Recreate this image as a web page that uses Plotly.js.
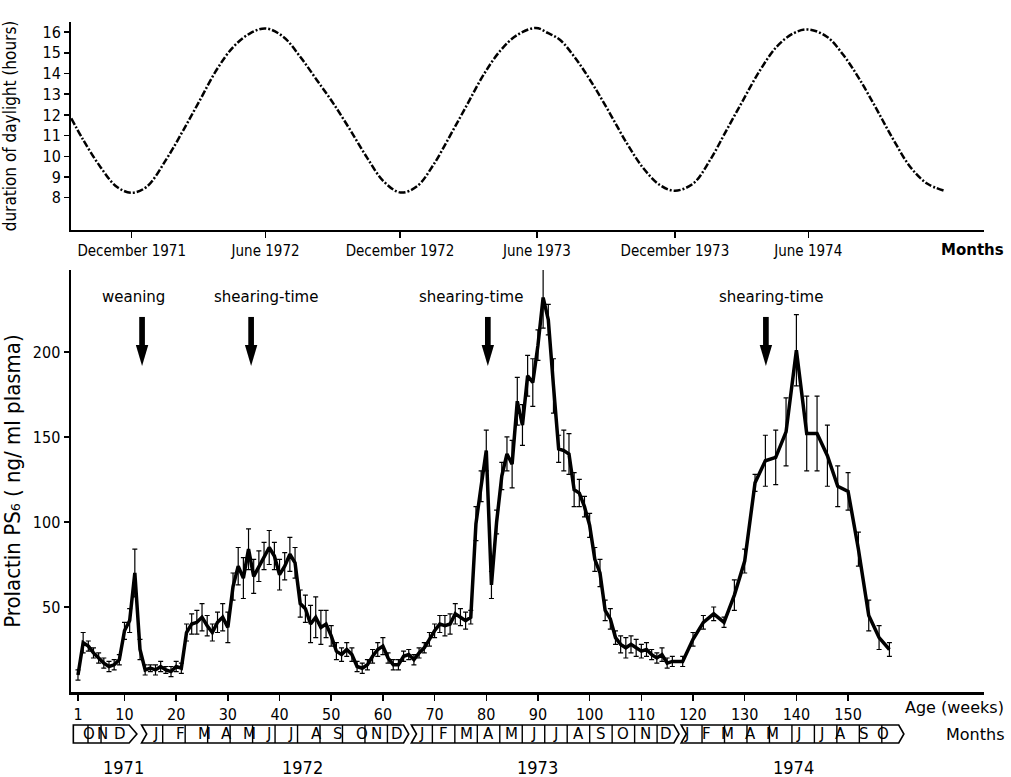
<!DOCTYPE html>
<html><head><meta charset="utf-8">
<script src="https://cdn.plot.ly/plotly-3.0.1.min.js"></script>
<style>html,body{margin:0;padding:0;background:#fff}#chart{width:1011px;height:777px}</style>
</head><body><div id="chart"></div>
<script>
// ---------- data ----------
const weeks = [1,2,3,4,5,6,7,8,9,10,11,12,13,14,15,16,17,18,19,20,21,22,23,24,25,26,27,28,29,30,
  31,32,33,34,35,36,37,38,39,40,41,42,43,44,45,46,47,48,49,50,51,52,53,54,55,56,57,58,59,60,
  61,62,63,64,65,66,67,68,69,70,71,72,73,74,75,76,77,78,79,80,81,82,83,84,85,86,87,88,89,90,
  91,92,93,94,95,96,97,98,99,100,101,102,103,104,105,106,107,108,109,110,111,112,113,114,115,116,
  118,120,122,124,126,128,130,132,134,136,138,140,142,144,146,148,150,152,154,156,158];
const prolactin = [10,29,27,23,20,17,15,16,19,36,
  42,70,25,13,14,13,15,13,12,15,
  14,35,40,41,44,39,35,41,44,38,
  62,74,67,84,68,74,80,85,80,69,
  74,81,76,52,49,40,44,38,40,33,
  24,22,25,22,15,14,16,21,25,27,
  20,16,16,21,22,19,23,26,31,36,
  40,39,40,46,44,42,44,99,121,142,
  63,100,127,140,134,171,157,186,182,204,
  232,219,180,143,142,140,119,117,109,98,
  78,70,48,43,32,28,26,28,26,24,
  25,22,20,22,17,18,
  18,31,41,46,41,57,77,123,136,138,153,201,152,152,139,121,118,84,45,32,25];
const prolactinErr = [3,6,3,3,3,3,3,3,3,5,
  7,14,6,3,2,3,3,2,3,3,
  3,5,6,7,8,6,5,6,8,9,
  8,11,12,12,10,9,8,10,8,9,
  8,10,9,8,8,11,12,10,8,6,
  5,4,4,4,3,3,3,4,4,5,
  3,3,3,3,3,3,3,3,4,4,
  5,6,6,6,5,5,4,10,9,12,
  8,7,8,10,14,14,12,12,14,9,
  18,9,16,8,12,12,10,8,6,7,
  7,8,6,6,4,5,6,5,5,4,
  4,3,3,4,3,3,
  3,4,4,4,3,9,7,5,15,16,20,21,22,22,18,12,11,10,9,7,4];

const daylightWeeks = [-0.3,2.0,5.3,8.5,11.4,14.3,18.2,21.4,24.6,27.8,31.1,34.3,37.3,40.7,44.0,47.2,50.4,
  53.6,56.9,60.1,63.4,66.6,69.8,73.0,76.3,79.5,82.7,85.9,89.6,92.0,
  94.3,97.5,100.7,103.9,107.2,110.4,113.6,116.5,120.1,123.3,126.5,129.7,133.0,136.2,139.4,142.3,
  145.9,149.1,152.3,155.6,158.8,162.0,165.2,168.8];
const daylightHours = [11.84,10.8,9.5,8.53,8.24,8.53,9.9,11.27,12.72,14.17,15.3,15.94,16.18,15.78,14.81,13.69,12.56,
  11.3,9.95,8.8,8.25,8.55,9.6,11.0,12.5,13.95,15.1,15.85,16.2,15.95,
  15.62,14.65,13.44,12.08,10.63,9.42,8.61,8.34,8.70,9.82,11.27,12.72,14.17,15.3,15.94,16.13,
  15.78,14.89,13.69,12.24,10.79,9.5,8.70,8.32];

const daylightTickWeeks = [11.4,37.3,63.3,89.8,116.5,142.3];
const daylightTickLabels = ['December 1971','June 1972','December 1972','June 1973','December 1973','June 1974'];
const hourTicks = [8,9,10,11,12,13,14,15,16];
const ageTicks = [1,10,20,30,40,50,60,70,80,90,100,110,120,130,140,150];
const prolactinTicks = [50,100,150,200];
const monthLetters = ['O','N','D',
  'J','F','M','A','M','J','J','A','S','O','N','D',
  'J','F','M','A','M','J','J','A','S','O','N','D',
  'J','F','M','A','M','J','J','A','S','O'];
const yearLabels = ['1971','1972','1973','1974'];
const eventLabels = ['weaning','shearing-time','shearing-time','shearing-time'];
const eventWeeks = [13.4,34.5,80.3,134.1];

// ---------- layout helpers ----------
const FONT = 'DejaVu Sans Condensed, DejaVu Sans, sans-serif';
const FONT2 = 'DejaVu Sans, sans-serif';
const X0 = -0.35, X1 = 176.3;
const px = w => (w - X0) / (X1 - X0);
const val = p => (692 - p) / 1.7;   // pixel row -> prolactin axis position (layout helper)

const traces = [
  {x: daylightWeeks, y: daylightHours, xaxis: 'x', yaxis: 'y', mode: 'lines',
   line: {color: '#000', width: 2.5, dash: '7px,2px,2px,2px', shape: 'spline', smoothing: 1},
   hoverinfo: 'skip'},
  {x: weeks, y: prolactin, xaxis: 'x2', yaxis: 'y2', mode: 'lines',
   line: {color: '#000', width: 3.5},
   error_y: {type: 'data', array: prolactinErr, visible: true, color: '#000', thickness: 1.2, width: 2.5}}
];

const annotations = [];
const shapes = [];

// event labels + arrows (arrows drawn as shapes)
const eventTextWeeks = [11.8, 37.4, 77.0, 135.1];
eventLabels.forEach((t, i) => {
  annotations.push({xref: 'x2', yref: 'y2', x: eventTextWeeks[i], y: val(297), text: t, showarrow: false,
    font: {family: FONT2, size: 15, color: '#000'}});
  const w = eventWeeks[i];
  shapes.push({type: 'rect', xref: 'x2', yref: 'y2', x0: w - 0.55, x1: w + 0.55, y0: val(317), y1: val(347),
    line: {width: 0}, fillcolor: '#000'});
  shapes.push({type: 'path', xref: 'x2', yref: 'y2',
    path: `M ${w - 1.2},${val(345)} L ${w + 1.2},${val(345)} L ${w},${val(366)} Z`,
    line: {width: 0}, fillcolor: '#000'});
});

// right-side labels
annotations.push({xref: 'paper', yref: 'paper', x: 1, xanchor: 'right', xshift: 22, y: (692-250)/670, yanchor: 'middle',
  text: '<b>Months</b>', showarrow: false, font: {family: FONT2, size: 15, color: '#000'}});
annotations.push({xref: 'paper', yref: 'paper', x: 1, xanchor: 'right', xshift: 22, y: (692-707)/670, yanchor: 'middle',
  text: 'Age (weeks)', showarrow: false, font: {family: FONT2, size: 16, color: '#000'}});
annotations.push({xref: 'paper', yref: 'paper', x: 1, xanchor: 'right', xshift: 22, y: (692-734)/670, yanchor: 'middle',
  text: 'Months', showarrow: false, font: {family: FONT2, size: 16, color: '#000'}});

// month strip
const yTop = (692-725)/670, yBot = (692-743)/670, yMid = (yTop + yBot) / 2;
const segs = [{l: 0.1, r: 10.9, tip: 12.4, notch: false}, {l: 13.3, r: 64.0, tip: 65.0, notch: true},
  {l: 65.5, r: 116.3, tip: 117.3, notch: true}, {l: 117.7, r: 159.8, tip: 160.8, notch: true}];
segs.forEach(s => {
  let p = `M ${px(s.l)},${yTop} L ${px(s.r)},${yTop} L ${px(s.tip)},${yMid} L ${px(s.r)},${yBot} L ${px(s.l)},${yBot}`;
  if (s.notch) p += ` L ${px(s.l + 1.0)},${yMid}`;
  p += ' Z';
  shapes.push({type: 'path', xref: 'paper', yref: 'paper', path: p, line: {color: '#000', width: 1.6}, fillcolor: 'rgba(0,0,0,0)'});
});
const M = 4.348;
const dividers = [2.94, 5.46];
for (let k = 4; k <= 36; k++) if (k !== 15 && k !== 27) dividers.push(k * M);
dividers.forEach(d => shapes.push({type: 'line', xref: 'paper', yref: 'paper', x0: px(d), x1: px(d), y0: yTop, y1: yBot,
  line: {color: '#000', width: 1.4}}));
monthLetters.forEach((m, k) => {
  let c;
  if (k === 0) c = 1.5; else if (k === 1) c = 4.2; else if (k === 2) c = 7.6;
  else { c = (k + 0.5) * M; if (k === 14 || k === 26 || k === 36) c -= 0.4; }
  annotations.push({xref: 'paper', yref: 'paper', x: px(c), y: yMid, yanchor: 'middle', text: m, showarrow: false,
    font: {family: FONT2, size: 15, color: '#000'}});
});
const yearCenters = [5.4, 40.1, 90.0, 143.8];
yearLabels.forEach((t, i) => annotations.push({xref: 'paper', yref: 'paper', x: px(yearCenters[i]), y: (692-767)/670,
  yanchor: 'middle', text: t, showarrow: false, font: {family: FONT, size: 18, color: '#000'}}));

const axBase = {showline: true, linecolor: '#000', showgrid: false, zeroline: false, ticks: 'outside',
  tickcolor: '#000', automargin: false, fixedrange: true};

const layout = {
  width: 1011, height: 777,
  margin: {l: 71, r: 27, t: 22, b: 85},
  paper_bgcolor: '#fff', plot_bgcolor: '#fff', showlegend: false,
  font: {family: FONT, size: 16, color: '#000'},
  xaxis: Object.assign({}, axBase, {domain: [0, 1], range: [X0, X1], anchor: 'y', tickmode: 'array',
    tickvals: daylightTickWeeks, ticktext: daylightTickLabels, ticklen: 6, tickwidth: 1.5, linewidth: 2,
    tickfont: {family: FONT, size: 15}}),
  yaxis: Object.assign({}, axBase, {domain: [462/670, 1], range: [6.44, 16.49], anchor: 'x', tickmode: 'array',
    tickvals: hourTicks, ticklen: 5, tickwidth: 1.5, linewidth: 2, tickfont: {family: FONT, size: 16},
    title: {text: 'duration of daylight (hours)', font: {family: FONT, size: 17}, standoff: 22}}),
  xaxis2: Object.assign({}, axBase, {domain: [0, 1], range: [X0, X1], anchor: 'y2', tickmode: 'array',
    tickvals: ageTicks, ticklen: 6, tickwidth: 1.5, linewidth: 2.5, tickfont: {family: FONT, size: 16}}),
  yaxis2: Object.assign({}, axBase, {domain: [0, 422/670], range: [0, 248.2], anchor: 'x2', tickmode: 'array',
    tickvals: prolactinTicks, ticklen: 5, tickwidth: 1.5, linewidth: 2.5, tickfont: {family: FONT, size: 16},
    title: {text: 'Prolactin PS\u2086 ( ng/ ml plasma)', font: {family: FONT, size: 22}, standoff: 10}}),
  annotations: annotations,
  shapes: shapes
};

Plotly.newPlot('chart', traces, layout, {displayModeBar: false, staticPlot: true});
</script>
</body></html>
